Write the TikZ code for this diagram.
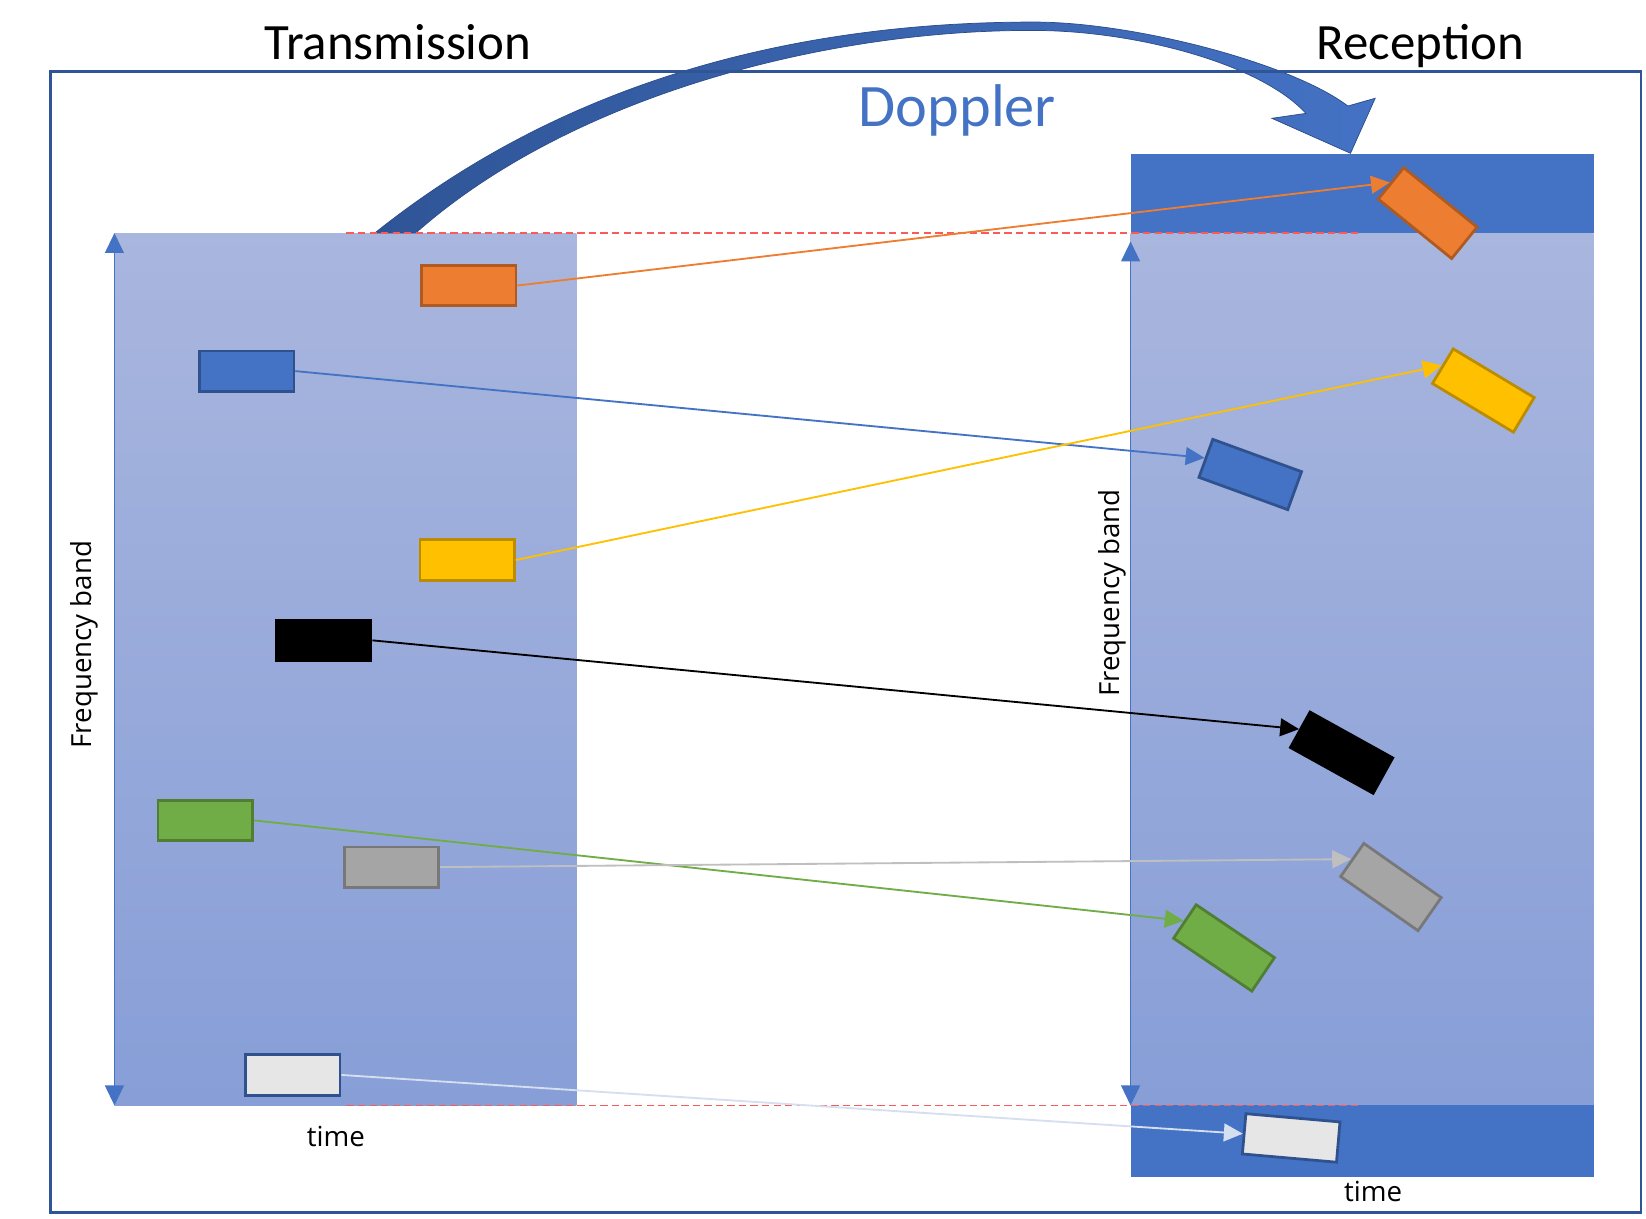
\documentclass[tikz,border=0pt]{standalone}
\usepackage{fontspec}
\setmainfont{Carlito}
\newfontfamily\osans{Open Sans}
\usetikzlibrary{arrows.meta}
\definecolor{dblue}{HTML}{4472C4}
\definecolor{frameblue}{HTML}{2F5597}
\definecolor{lbtop}{RGB}{169,182,222}
\definecolor{lbbot}{RGB}{135,158,215}
\definecolor{arrL}{RGB}{47,85,151}
\definecolor{arrR}{RGB}{68,114,196}
\definecolor{arrEdge}{RGB}{44,78,140}
\definecolor{reddash}{RGB}{250,90,90}
\definecolor{oF}{HTML}{ED7D31}\definecolor{oB}{HTML}{AE5A21}
\definecolor{bF}{HTML}{4472C4}\definecolor{bB}{HTML}{2F528F}
\definecolor{yF}{HTML}{FFC000}\definecolor{yB}{HTML}{BC8C00}
\definecolor{gF}{HTML}{70AD47}\definecolor{gB}{HTML}{507E32}
\definecolor{aF}{HTML}{A5A5A5}\definecolor{aB}{HTML}{787878}
\definecolor{wF}{HTML}{E7E6E6}\definecolor{wB}{HTML}{2F528F}
\definecolor{aL}{HTML}{BFBFBF}
\definecolor{wL}{HTML}{D6DFF0}
\begin{document}
\begin{tikzpicture}[x=0.02cm,y=-0.02cm,
  box/.style={draw, line width=1.5pt, minimum width=1.8cm, minimum height=0.77cm, inner sep=0pt},
  link/.style={line width=1pt, -{Triangle[length=0.36cm,width=0.34cm]}},
  axisline/.style={draw=dblue, line width=0.8pt, {Triangle[length=0.38cm,width=0.36cm]}-{Triangle[length=0.38cm,width=0.36cm]}},
  redline/.style={draw=reddash, line width=0.9pt, dash pattern=on 0.14cm off 0.08cm},
  labelfont/.style={font=\osans\fontsize{15}{18}\selectfont},
  titlefont/.style={font=\fontsize{27.6}{33}\selectfont, anchor=base}]
\useasboundingbox (0,0) rectangle (1568,1161);
\fill[white] (0,0) rectangle (1568,1161);

% backgrounds
\shade[top color=lbtop, bottom color=lbbot] (109,222) rectangle (549,1053);
\shade[top color=lbtop, bottom color=lbbot] (1077,222) rectangle (1518,1053);
\fill[dblue] (1077,147) rectangle (1518,222);
\fill[dblue] (1077,1053) rectangle (1518,1121);

% Doppler arrow
\shadedraw[left color=arrL, right color=arrR, draw=arrEdge, line width=0.4pt]
 (357,222) .. controls (537,78) and (755,21) .. (985,21)
 .. controls (1080,21) and (1230,60) .. (1284,101)
 -- (1310,93.6) -- (1286.5,146) -- (1211.6,112.7) -- (1244,108)
 .. controls (1200,60) and (1080,29) .. (985,29)
 .. controls (790,28) and (545,90) .. (396,222) -- cycle;

% red dashed limits
\draw[redline] (330,222) -- (1295,222);
\draw[redline] (330,1053) -- (1295,1053);

% frame
\draw[frameblue, line width=1.3pt] (48,68) rectangle (1563,1155);

% axes
\coordinate (la1) at (109,1053);
\coordinate (la2) at (109,222);
\draw[axisline] (la1) -- (la2);
\coordinate (ra1) at (1077,1053);
\coordinate (ra2) at (1077,230);
\draw[axisline] (ra1) -- (ra2);

% texts
\node[titlefont] (tt) at (379,56.5) {Transmission};
\node[titlefont] (rt) at (1353,56.5) {Reception};
\node[anchor=base, text=dblue, font=\fontsize{32.7}{39}\selectfont] (dp) at (912,120.7) {Doppler};
\node[labelfont, rotate=90] (fl) at (80,614) {Frequency band};
\node[labelfont, rotate=90] (fr) at (1060,565) {Frequency band};
\node[labelfont, anchor=base] (tl) at (320,1092) {time};
\node[labelfont, anchor=base] (tr) at (1308,1145) {time};

% transmitted blocks
\node[box, draw=oB, fill=oF] (txO) at (446.5,272) {};
\node[box, draw=bB, fill=bF] (txB) at (235,353.5) {};
\node[box, draw=yB, fill=yF] (txY) at (445,533.5) {};
\node[box, draw=black, fill=black] (txK) at (308.5,610) {};
\node[box, draw=gB, fill=gF] (txG) at (195.5,781.5) {};
\node[box, draw=aB, fill=aF] (txA) at (373,826) {};
\node[box, draw=wB, fill=wF] (txW) at (279,1024) {};

% received blocks
\node[box, draw=oB, fill=oF, rotate=-39] (rxO) at (1360,203) {};
\node[box, draw=yB, fill=yF, rotate=-31] (rxY) at (1413,372) {};
\node[box, draw=bB, fill=bF, rotate=-20] (rxB) at (1191,452) {};
\node[box, draw=black, fill=black, rotate=-29] (rxK) at (1278,717) {};
\node[box, draw=aB, fill=aF, rotate=-35] (rxA) at (1325,845) {};
\node[box, draw=gB, fill=gF, rotate=-34] (rxG) at (1166,903) {};
\node[box, draw=wB, fill=wF, rotate=-5] (rxW) at (1230,1084) {};

% connectors
\draw[link, draw=oF] (txO.east) -- (rxO.west);
\draw[link, draw=bF] (txB.east) -- (rxB.west);
\draw[link, draw=yF] (txY.east) -- (rxY.west);
\draw[link, draw=black] (txK.east) -- (rxK.west);
\draw[link, draw=gF] (txG.east) -- (rxG.west);
\draw[link, draw=aL] (txA.east) -- (rxA.west);
\draw[link, draw=wL] (txW.east) -- (rxW.west);
\end{tikzpicture}
\end{document}
